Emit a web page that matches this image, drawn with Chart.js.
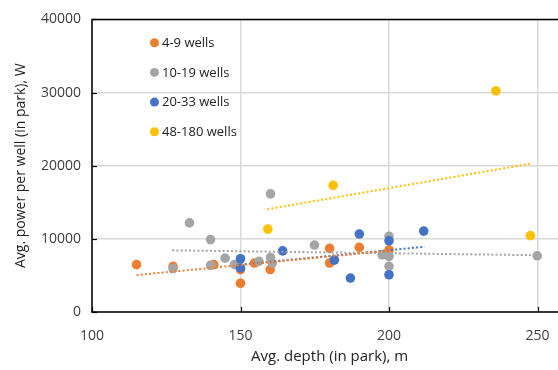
<!DOCTYPE html>
<html>
<head>
<meta charset="utf-8">
<script src="https://cdn.jsdelivr.net/npm/chart.js@4"></script>
<style>
  html, body { margin:0; padding:0; background:#fff; overflow:hidden; }
  #wrap { width:572px; height:370px; }
</style>
</head>
<body>
<div id="wrap"><canvas id="chart" width="572" height="370"></canvas></div>
<script>
'use strict';
// series (depth m, power W)
const LABELS = ['4-9 wells', '10-19 wells', '20-33 wells', '48-180 wells'];
const COLORS = ['#ED7D31', '#A5A5A5', '#4472C4', '#FFC000'];

const orangeX = [115, 127.3, 141, 150, 150, 154.7, 160, 180, 180, 190, 200];
const orangeY = [6470, 6250, 6470, 5800, 3930, 6690, 5800, 8700, 6700, 8830, 8480];

const grayX = [127.3, 132.8, 139.9, 139.9, 144.8, 148, 156.2, 160.1, 160.1, 160.7, 174.9, 197.7, 200, 200, 200, 249.9];
const grayY = [5940, 12180, 9900, 6380, 7360, 6470, 6920, 16150, 7450, 6690, 9150, 7810, 10360, 7590, 6250, 7680];

const blueX = [150, 150, 164.2, 181.6, 187, 190, 200, 200, 211.7];
const blueY = [7280, 6020, 8350, 7090, 4640, 10660, 9730, 5090, 11060];

const yellowX = [159.2, 181.2, 236, 247.6];
const yellowY = [11330, 17310, 30240, 10440];

// linear trendline end points
const trendX = [[115, 200], [127, 250], [150, 212], [159, 248]];
const trendY = [[5040, 8390], [8430, 7760], [6470, 8920], [14050, 20300]];

const X_TICKS = [100, 150, 200, 250];
const Y_TICKS = [0, 10000, 20000, 30000, 40000];

const FONT = 'Open Sans';
const pts = (xs, ys) => xs.map((x, i) => ({ x, y: ys[i] }));
const seriesX = [orangeX, grayX, blueX, yellowX];
const seriesY = [orangeY, grayY, blueY, yellowY];

const datasets = [];
LABELS.forEach((lab, i) => {
  datasets.push({
    label: lab, data: pts(seriesX[i], seriesY[i]),
    backgroundColor: COLORS[i], borderColor: COLORS[i], borderWidth: 0,
    pointRadius: 4.8, pointHoverRadius: 4.8, order: 4 - i
  });
});
LABELS.forEach((lab, i) => {
  datasets.push({
    type: 'line', label: 'trend ' + lab, data: pts(trendX[i], trendY[i]),
    borderColor: COLORS[i], borderWidth: 2, borderDash: [2, 2.2], borderCapStyle: 'butt',
    pointRadius: 0, fill: false, order: 0
  });
});

const frame = {
  id: 'frame',
  afterDraw(chart) {
    const { ctx, chartArea: a, scales: { x, y } } = chart;
    ctx.save();
    ctx.strokeStyle = '#000'; ctx.lineWidth = 1.5;
    ctx.beginPath();
    ctx.moveTo(a.right, a.top); ctx.lineTo(a.left, a.top);
    ctx.lineTo(a.left, a.bottom); ctx.lineTo(a.right, a.bottom);
    ctx.stroke();
    // inside tick marks
    ctx.lineWidth = 1.2;
    Y_TICKS.forEach(v => {
      const py = Math.round(y.getPixelForValue(v)) + 0.5;
      ctx.beginPath(); ctx.moveTo(a.left, py); ctx.lineTo(a.left + 5, py); ctx.stroke();
    });
    X_TICKS.forEach(v => {
      const px = Math.round(x.getPixelForValue(v)) + 0.5;
      ctx.beginPath(); ctx.moveTo(px, a.bottom); ctx.lineTo(px, a.bottom - 5); ctx.stroke();
    });
    // legend inside the plot
    ctx.font = '13px "' + FONT + '"';
    ctx.textBaseline = 'middle'; ctx.textAlign = 'left';
    LABELS.forEach((lab, i) => {
      const cy = 42.7 + i * 29.7;
      ctx.fillStyle = COLORS[i];
      ctx.beginPath(); ctx.arc(154.5, cy, 4.5, 0, Math.PI * 2); ctx.fill();
      ctx.fillStyle = '#222';
      ctx.fillText(lab, 162, cy + 0.5);
    });
    ctx.restore();
  }
};

new Chart(document.getElementById('chart'), {
  type: 'scatter',
  data: { datasets },
  options: {
    responsive: false, animation: false, devicePixelRatio: 1,
    layout: { padding: { top: 12, left: 0, right: 0, bottom: 0 } },
    plugins: { legend: { display: false }, tooltip: { enabled: false } },
    scales: {
      x: {
        type: 'linear', min: 100, max: 260,
        afterBuildTicks: s => { s.ticks = X_TICKS.map(v => ({ value: v })); },
        afterFit: s => { s.height = 58; },
        grid: { color: '#d9d9d9', lineWidth: 1.5, drawTicks: false },
        border: { display: false },
        ticks: { color: '#404040', font: { family: FONT, size: 14 }, padding: 16 },
        title: { display: true, text: 'Avg. depth (in park), m', color: '#222',
                 font: { family: FONT, size: 15 }, padding: { top: 2 } }
      },
      y: {
        min: 0, max: 40000,
        afterBuildTicks: s => { s.ticks = Y_TICKS.map(v => ({ value: v })); },
        afterFit: s => { s.width = 92; },
        grid: { color: '#d9d9d9', lineWidth: 1.5, drawTicks: false },
        border: { display: false },
        ticks: { color: '#404040', font: { family: FONT, size: 14 }, padding: 11,
                 callback: v => String(v) },
        title: { display: true, text: 'Avg. power per well (in park), W', color: '#222',
                 font: { family: FONT, size: 14 }, padding: { top: 13, bottom: 4 } }
      }
    }
  },
  plugins: [frame]
});
</script>
</body>
</html>
